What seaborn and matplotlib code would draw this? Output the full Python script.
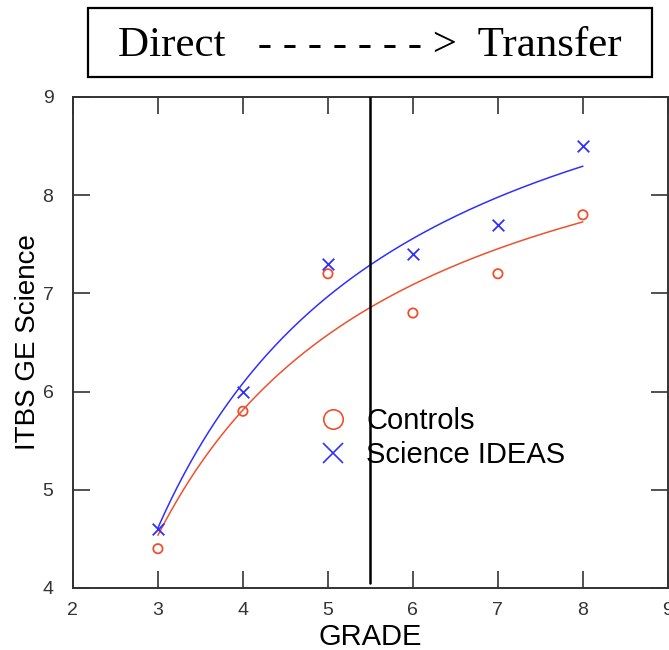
import numpy as np
import pandas as pd
import matplotlib.pyplot as plt
import seaborn as sns
from matplotlib.lines import Line2D
from matplotlib.patches import Rectangle

# data
grade = [3, 4, 5, 6, 7, 8]
controls = [4.4, 5.8, 7.2, 6.8, 7.2, 7.8]
science_ideas = [4.6, 6.0, 7.3, 7.4, 7.7, 8.5]
xticks = [2, 3, 4, 5, 6, 7, 8, 9]
yticks = [4, 5, 6, 7, 8, 9]
split_grade = 5.5

RED = "#f0502c"
BLUE = "#2f2fff"

sns.set_theme(style="ticks")
plt.rcParams["font.family"] = ["Liberation Sans", "DejaVu Sans"]


def fitInverse(x, y):
    # y = a + b / x  (least squares on 1/x)
    x = np.asarray(x, dtype=float)
    b, a = np.polyfit(1.0 / x, np.asarray(y, dtype=float), 1)
    xs = np.linspace(x.min(), x.max(), 200)
    return xs, a + b / xs


fig = plt.figure(figsize=(6.69, 6.5), dpi=100)
ax = fig.add_axes([0.109, 0.0954, 0.8894, 0.7554])

df = pd.DataFrame({"grade": grade, "controls": controls, "ideas": science_ideas})

xs, ys = fitInverse(df["grade"], df["controls"])
sns.lineplot(x=xs, y=ys, color=RED, lw=1.1, ax=ax)
xs, ys = fitInverse(df["grade"], df["ideas"])
sns.lineplot(x=xs, y=ys, color=BLUE, lw=1.1, ax=ax)

sns.scatterplot(data=df, x="grade", y="controls", marker="o", s=45,
                facecolor="none", edgecolor=RED, linewidth=1.3, color=RED, ax=ax, zorder=3)
sns.scatterplot(data=df, x="grade", y="ideas", marker="x", s=70,
                linewidth=1.3, color=BLUE, ax=ax, zorder=3)

ax.axvline(split_grade, ymin=0.01, ymax=1, color="black", lw=1.8, zorder=4)

ax.set_xlim(2, 9)
ax.set_ylim(4, 9)
ax.set_xticks(xticks)
ax.set_yticks(yticks)
ax.tick_params(direction="in", length=12, width=1.2, top=True, right=True,
               labeltop=False, labelright=False, colors="#333333",
               labelsize=14)
ax.tick_params(axis="x", pad=10)
ax.tick_params(axis="y", pad=14)
for sp in ax.spines.values():
    sp.set_visible(True)
    sp.set_color("#333333")
    sp.set_linewidth(1.4)

ax.set_xlabel("GRADE", fontsize=21, color="black", labelpad=3)
ax.set_ylabel("ITBS GE Science", fontsize=20, color="black", labelpad=1)

handles = [
    Line2D([], [], ls="none", marker="o", ms=14, mfc="none", mec=RED, mew=1.2),
    Line2D([], [], ls="none", marker="x", ms=14, color=BLUE, mew=1.2),
]
leg = ax.legend(handles, ["Controls", "Science IDEAS"], loc="center left",
                bbox_to_anchor=(0.40, 0.305), frameon=False, fontsize=21,
                borderaxespad=0, borderpad=0, handlelength=1.5, handletextpad=0.4,
                labelspacing=0.2)
plt.setp(leg.get_texts(), color="black")

# header box
fig.patches.append(Rectangle((0.1315, 0.8815), 0.843, 0.106, transform=fig.transFigure,
                             fill=False, edgecolor="black", lw=1.6))
fig.text(0.553, 0.930, "Direct   - - - - - - - >  Transfer", ha="center", va="center",
         fontsize=31, family=["Liberation Serif", "DejaVu Serif"], color="black")

fig.savefig("out.png", dpi=100)
